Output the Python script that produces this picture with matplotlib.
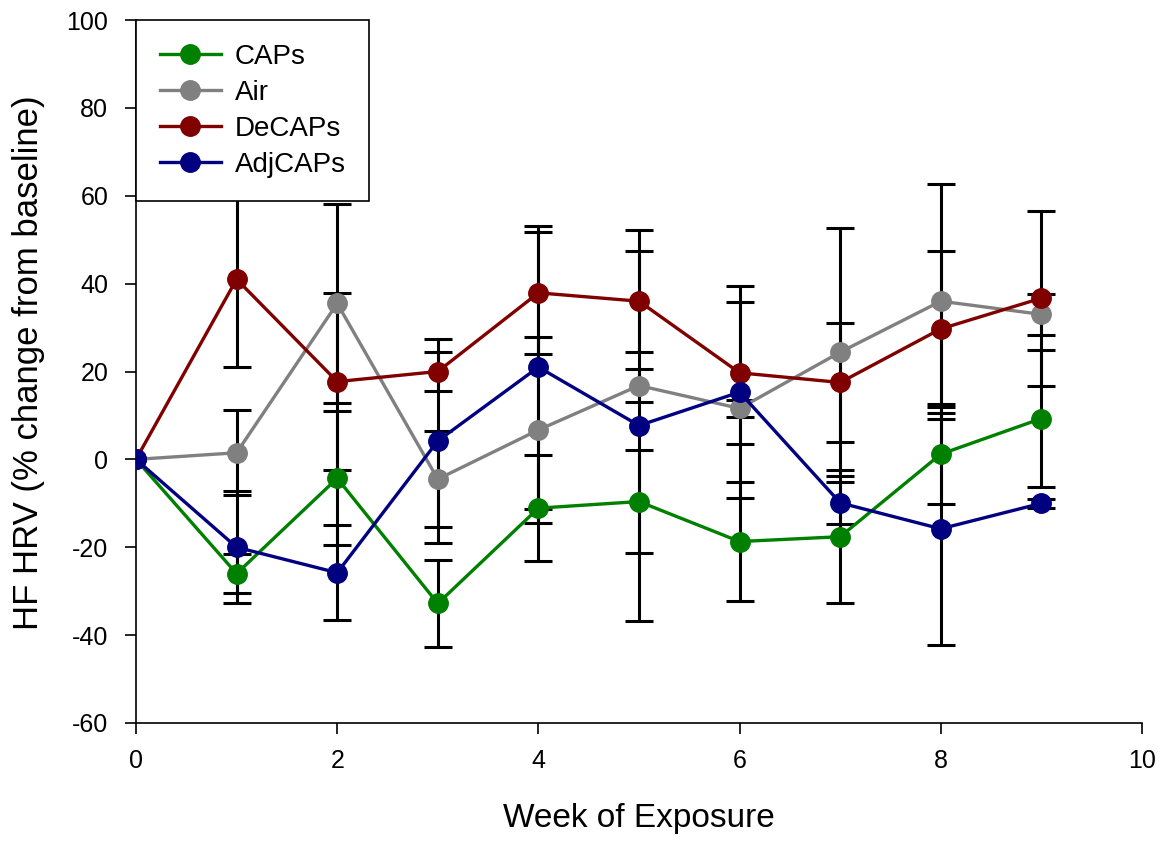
import matplotlib.pyplot as plt
import numpy as np

plt.rcParams["font.family"] = ["Liberation Sans", "DejaVu Sans"]
plt.rcParams["axes.unicode_minus"] = False

# Semanas de exposición
weeks = [0, 1, 2, 3, 4, 5, 6, 7, 8, 9]

# Media y error estándar de cada grupo (% de cambio respecto a la línea base)
caps = [0, -26.0, -4.3, -32.8, -11.1, -9.6, -18.7, -17.6, 1.2, 9.3]
caps_err = [0, 4.5, 15.2, 10.0, 12.0, 11.7, 13.5, 15.2, 11.4, 15.6]
air = [0, 1.5, 35.5, -4.5, 6.7, 16.8, 11.6, 24.4, 36.0, 33.0]
air_err = [0, 9.7, 22.6, 11.0, 21.2, 3.7, 2.0, 28.2, 26.7, 4.6]
decaps = [0, 41.0, 17.7, 20.0, 37.9, 36.0, 19.7, 17.5, 29.7, 36.7]
decaps_err = [0, 20.0, 20.2, 4.5, 13.9, 11.5, 16.1, 13.6, 17.8, 19.9]
adjcaps = [0, -20.0, -25.8, 4.2, 21.0, 7.7, 15.3, -9.9, -15.8, -10.0]
adjcaps_err = [0, 12.8, 10.8, 23.2, 32.2, 44.4, 24.2, 4.7, 26.4, 1.0]

series = [
    ("CAPs", caps, caps_err, "#008000"),
    ("Air", air, air_err, "#808080"),
    ("DeCAPs", decaps, decaps_err, "#800000"),
    ("AdjCAPs", adjcaps, adjcaps_err, "#000080"),
]

fig = plt.figure(figsize=(11.63, 8.42), dpi=100)
ax = fig.add_axes([136 / 1163, 1 - 723 / 842, 1006 / 1163, 703 / 842])

# Barras de error (sin la semana 0)
for name, vals, errs, color in series:
    ax.errorbar(weeks[1:], vals[1:], yerr=errs[1:],
                fmt="none",
                ecolor="black",
                elinewidth=2.2,
                capsize=10,
                capthick=2.2,
                zorder=2)

# Líneas con marcadores
for name, vals, errs, color in series:
    ax.plot(weeks, vals,
            color=color,
            lw=2.4,
            marker="o",
            markersize=14,
            label=name,
            zorder=3)

# Límites y ticks de los ejes
ax.set_xlim(0, 10)
ax.set_ylim(-60, 100)
ax.set_xticks(np.arange(0, 12, 2))
ax.set_yticks(np.arange(-60, 120, 20))
ax.tick_params(direction="out", length=8, width=1.2, labelsize=18)
ax.tick_params(axis="y", pad=12)
ax.tick_params(axis="x", pad=11)
ax.spines["top"].set_visible(False)
ax.spines["right"].set_visible(False)
ax.spines["left"].set_linewidth(1.2)
ax.spines["bottom"].set_linewidth(1.2)

# Etiquetas de los ejes
ax.set_xlabel("Week of Exposure", fontsize=24, labelpad=21)
ax.set_ylabel("HF HRV (% change from baseline)", fontsize=25)
ax.yaxis.set_label_coords(-0.09, 0.512)

# Leyenda
leg = ax.legend(loc="upper left",
                bbox_to_anchor=(0, 1),
                borderaxespad=0,
                fontsize=20,
                handlelength=2.2,
                handletextpad=0.5,
                labelspacing=0.36,
                borderpad=0.85,
                fancybox=False,
                framealpha=1)
leg.get_frame().set_edgecolor("black")
leg.get_frame().set_linewidth(1.2)

fig.savefig("out.png", dpi=100)
